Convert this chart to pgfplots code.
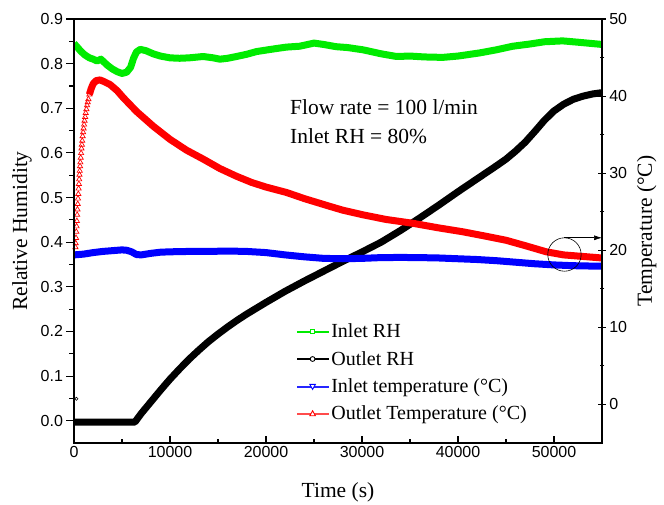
\documentclass[border=0pt]{standalone}
\usepackage{fontspec}
\setmainfont{Liberation Serif}
\setsansfont{Liberation Sans}
\usepackage{pgfplots}
\pgfplotsset{compat=1.18}
\usetikzlibrary{arrows.meta}

\definecolor{rhgreen}{RGB}{0,235,0}
\definecolor{tblue}{RGB}{0,0,255}
\definecolor{tred}{RGB}{255,0,0}

\pgfplotsset{
  common/.style={
    scale only axis, width=528pt, height=424pt,
    xmin=0, xmax=55000,
    axis line style={line width=1.4pt},
    every tick/.style={black, line width=1.1pt},
    major tick length=7.5pt, minor tick length=4.5pt,
    tick label style={font=\fontsize{16}{16}\selectfont\sffamily},
    /pgf/number format/assume math mode=true,
    /pgf/number format/1000 sep={},
    scaled ticks=false,
  },
  thick series/.style={line width=7pt, line join=round, line cap=butt, mark=none},
}

\begin{document}
\begin{tikzpicture}
\path[use as bounding box] (-74pt,-61pt) rectangle (590pt,443pt);

% left axis: relative humidity
\begin{axis}[common,
  ymin=-0.05, ymax=0.9,
  axis x line=none, axis y line*=left,
  tick align=outside,
  ytick={0,0.1,0.2,0.3,0.4,0.5,0.6,0.7,0.8,0.9},
  minor y tick num=1,
  yticklabel style={/pgf/number format/.cd, fixed, fixed zerofill, precision=1},
  ylabel={Relative Humidity},
  every axis y label/.style={at={(axis description cs:-0.0985,0.5)}, rotate=90, anchor=center,
    font=\fontsize{21.5}{24}\selectfont},
]
% Inlet RH
\addplot[rhgreen, thick series] coordinates {
(0,0.845)(300,0.838)(700,0.828)(1100,0.82)(1600,0.813)(2000,0.81)(2400,0.806)
(2800,0.81)(3100,0.804)(3500,0.796)(4000,0.788)(4500,0.782)(5000,0.778)(5500,0.781)
(5900,0.792)(6200,0.812)(6500,0.826)(6900,0.832)(7500,0.829)(8250,0.822)(9000,0.817)
(10000,0.813)(11000,0.812)(12000,0.813)(13460,0.816)(14500,0.813)(15200,0.810)
(16000,0.812)(16930,0.816)(18000,0.821)(19000,0.827)(20500,0.832)(22100,0.837)
(23500,0.839)(25000,0.846)(26000,0.843)(27300,0.838)(28500,0.836)(30100,0.831)
(32000,0.822)(33600,0.816)(35000,0.817)(36500,0.815)(38400,0.814)(40000,0.817)
(42250,0.824)(44000,0.831)(45700,0.839)(47500,0.844)(49000,0.849)(50900,0.851)
(52500,0.848)(54000,0.845)(55000,0.843)};
% Outlet RH
\addplot[black, thick series] coordinates {
(0,-0.003)(6350,-0.003)(7000,0.016)(8000,0.042)(9000,0.068)(10000,0.093)
(11000,0.116)(12000,0.138)(13000,0.158)(14000,0.177)(15000,0.194)(16000,0.21)
(17000,0.225)(18000,0.239)(19000,0.252)(20000,0.265)(22000,0.29)(24000,0.313)
(26000,0.335)(28000,0.357)(30000,0.378)(32000,0.4)(34000,0.426)(36000,0.454)
(38000,0.483)(40000,0.513)(42000,0.542)(44000,0.571)(45000,0.586)(46000,0.604)
(47000,0.624)(48000,0.648)(49000,0.673)(50000,0.694)(51000,0.709)(52000,0.72)
(53000,0.727)(54000,0.732)(55000,0.735)};
\addplot[black, only marks, mark=o, mark size=1.6pt, line width=0.6pt] coordinates {(250,0.049)};
\end{axis}

% right axis: temperature
\begin{axis}[common,
  ymin=-5, ymax=50,
  axis x line=none, axis y line*=right,
  tick align=center,
  ytick={0,10,20,30,40,50},
  minor y tick num=1,
  ylabel={Temperature (°C)},
  every axis y label/.style={at={(axis description cs:1.0847,0.5)}, rotate=90, anchor=center,
    font=\fontsize{21.5}{24}\selectfont},
  legend style={draw=none, fill=none, at={(axis description cs:0.4218,0.286)}, anchor=north west,
    font=\fontsize{20}{22}\selectfont, inner sep=0pt, row sep=8pt,
    nodes={inner sep=2pt, inner xsep=3pt}},
  legend cell align=left,
]
\addlegendimage{legend image code/.code={
  \fill[rhgreen] (0pt,-0.45pt) rectangle (31pt,0.45pt);
  \draw[rhgreen, line width=0.9pt, fill=white] (13.2pt,-2.3pt) rectangle (17.8pt,2.3pt);}}
\addlegendimage{legend image code/.code={
  \fill[black] (0pt,-0.4pt) rectangle (31pt,0.4pt);
  \draw[black, line width=0.9pt, fill=white] (15.5pt,0pt) circle[radius=2.4pt];}}
\addlegendimage{legend image code/.code={
  \fill[tblue!85] (0pt,-0.45pt) rectangle (31pt,0.45pt);
  \draw[tblue, line width=0.9pt, fill=white] (12.7pt,2pt) -- (18.3pt,2pt) -- (15.5pt,-3pt) -- cycle;}}
\addlegendimage{legend image code/.code={
  \fill[tred!70] (0pt,-0.45pt) rectangle (31pt,0.45pt);
  \draw[tred, line width=0.9pt, fill=white] (12.7pt,-2pt) -- (18.3pt,-2pt) -- (15.5pt,3pt) -- cycle;}}
% Inlet temperature
\addplot[tblue, thick series, forget plot] coordinates {
(0,19.4)(1000,19.5)(2000,19.7)(3000,19.85)(4000,19.95)(5000,20.05)(5500,20.0)
(6000,19.8)(6500,19.45)(7000,19.4)(8000,19.6)(9000,19.75)(10000,19.8)(12000,19.85)
(14000,19.85)(16000,19.9)(18000,19.85)(20000,19.7)(22000,19.4)(24000,19.15)
(26000,18.95)(28000,18.9)(30000,18.95)(32000,19.05)(34000,19.07)(36000,19.05)
(38000,19.0)(40000,18.9)(42000,18.8)(44000,18.65)(46000,18.45)(48000,18.25)
(50000,18.1)(52000,18.0)(54000,17.95)(55000,17.95)};
% Outlet temperature: warm-up samples
\addplot[tred, only marks, mark=triangle, mark size=3pt, line width=0.7pt, forget plot] coordinates {
(150,20.4)(180,20.9)(210,21.6)(240,22.4)(270,23.1)(300,23.8)(330,24.6)(360,25.3)
(390,26.0)(420,26.7)(450,27.3)(480,28.0)(510,28.6)(540,29.2)(570,29.8)(600,30.3)
(630,30.9)(660,31.4)(700,32.0)(740,32.6)(780,33.2)(820,33.7)(860,34.2)(900,34.8)
(950,35.3)(1000,35.8)(1050,36.3)(1100,36.8)(1160,37.3)(1220,37.8)(1290,38.3)
(1360,38.8)(1430,39.2)(1500,39.6)(1600,40.2)};
\addplot[tred, thick series, forget plot] coordinates {
(1600,40.2)(1800,41.0)(2000,41.6)(2300,42.0)(2700,42.1)(3100,41.9)(3750,41.5)
(4500,40.7)(5130,39.8)(6520,38.0)(8250,36.1)(9990,34.4)(11700,33.0)(13500,31.8)
(15200,30.6)(16930,29.6)(18500,28.8)(20000,28.2)(22130,27.5)(24000,26.7)
(26640,25.7)(28000,25.2)(30100,24.6)(32500,24.0)(35300,23.5)(38000,22.9)
(40500,22.4)(43000,21.8)(45000,21.3)(47000,20.6)(49200,19.8)(51000,19.4)
(53000,19.2)(55000,19.0)};
\legend{Inlet RH, Outlet RH, Inlet temperature (°C), Outlet Temperature (°C)}
\node[anchor=base west, font=\fontsize{21.5}{24}\selectfont] at (axis description cs:0.4028,0.7736) {Flow rate = 100 l/min};
\node[anchor=base west, font=\fontsize{21.5}{24}\selectfont] at (axis description cs:0.4028,0.7068) {Inlet RH = 80\%};
\coordinate (ring) at (axis cs:51090,19.45);
\coordinate (arrowA) at (axis cs:51090,21.62);
\coordinate (arrowB) at (axis cs:55000,21.62);
\end{axis}

% frame and time axis
\begin{axis}[common,
  ymin=0, ymax=1,
  xtick pos=bottom, ytick=\empty,
  tick align=inside,
  xtick={0,10000,20000,30000,40000,50000},
  minor x tick num=1,
  xlabel={Time (s)},
  every axis x label/.style={at={(axis description cs:0.5,-0.117)}, anchor=center,
    font=\fontsize{21.5}{24}\selectfont},
]
\end{axis}

\draw[line width=0.6pt] (ring) circle[radius=16.7pt];
\draw[line width=0.6pt, -{Latex[length=8pt,width=5pt]}] (arrowA) -- (arrowB);
\end{tikzpicture}
\end{document}
